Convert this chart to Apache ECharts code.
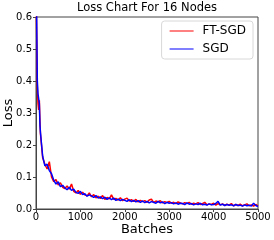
<!DOCTYPE html>
<html><head><meta charset="utf-8">
<script src="https://cdn.jsdelivr.net/npm/echarts@6/dist/echarts.min.js"></script>
<style>html,body{margin:0;padding:0;background:#fff}#c{width:274px;height:240px}</style>
</head><body><div id="c"></div>
<script>
const batches = [0,15,30,45,60,75,90,100,150,200,250,300,350,400,450,500,550,600,650,700,750,800,850,900,950,1000,1050,1100,1150,1200,1250,1300,1350,1400,1450,1500,1550,1600,1650,1700,1750,1800,1850,1900,1950,2000,2050,2100,2150,2200,2250,2300,2350,2400,2450,2500,2550,2600,2650,2700,2750,2800,2850,2900,2950,3000,3050,3100,3150,3200,3250,3300,3350,3400,3450,3500,3550,3600,3650,3700,3750,3800,3850,3900,3950,4000,4050,4100,4150,4200,4250,4300,4350,4400,4450,4500,4550,4600,4650,4700,4750,4800,4850,4900,4950,5000];
const ftsgd = [0.70,0.55,0.38,0.33,0.31,0.34,0.27,0.235,0.16,0.14,0.125,0.148,0.10,0.085,0.092,0.075,0.082,0.068,0.064,0.072,0.062,0.078,0.055,0.050,0.058,0.046,0.052,0.044,0.041,0.050,0.038,0.045,0.035,0.040,0.033,0.042,0.030,0.036,0.032,0.044,0.030,0.033,0.028,0.035,0.026,0.031,0.034,0.025,0.029,0.024,0.030,0.022,0.027,0.023,0.026,0.021,0.028,0.031,0.020,0.025,0.022,0.026,0.019,0.023,0.020,0.024,0.018,0.021,0.017,0.022,0.019,0.016,0.020,0.017,0.021,0.015,0.018,0.016,0.020,0.014,0.017,0.021,0.013,0.016,0.014,0.018,0.012,0.017,0.013,0.016,0.011,0.015,0.012,0.017,0.010,0.014,0.011,0.015,0.010,0.013,0.016,0.010,0.013,0.009,0.014,0.010];
const sgd = [0.78,0.60,0.40,0.36,0.355,0.33,0.26,0.24,0.165,0.135,0.14,0.12,0.11,0.09,0.078,0.085,0.07,0.074,0.066,0.06,0.068,0.058,0.062,0.052,0.049,0.055,0.045,0.048,0.040,0.044,0.041,0.036,0.042,0.034,0.038,0.032,0.037,0.030,0.035,0.029,0.034,0.027,0.031,0.026,0.030,0.027,0.024,0.029,0.023,0.027,0.022,0.026,0.021,0.025,0.020,0.024,0.019,0.023,0.021,0.018,0.024,0.019,0.022,0.017,0.021,0.018,0.020,0.016,0.019,0.015,0.018,0.017,0.014,0.019,0.015,0.017,0.013,0.016,0.014,0.018,0.013,0.015,0.012,0.016,0.013,0.014,0.017,0.024,0.012,0.015,0.011,0.014,0.012,0.013,0.010,0.014,0.011,0.012,0.009,0.013,0.010,0.012,0.009,0.018,0.011,0.008];
const yTicks = [0, 0.6, 0.1];
const xTicks = [0, 5000, 1000];
const seriesNames = ['FT-SGD', 'SGD'];
const seriesColors = ['#ff0000', '#0000ff'];
const chartTitle = 'Loss Chart For 16 Nodes';

const font = 'DejaVu Sans';
const chart = echarts.init(document.getElementById('c'), null, {renderer: 'canvas'});
const pair = arr => batches.map((b, i) => [b, arr[i]]);
chart.setOption({
  animation: false,
  title: {text: chartTitle, left: 147, top: 2, textAlign: 'center', padding: 0,
    textStyle: {fontFamily: font, fontSize: 11.5, fontWeight: 'normal', color: '#000'}},
  grid: {left: 36, right: 16, top: 17, bottom: 31, show: true, borderColor: '#444', borderWidth: 1,
    containLabel: false, outerBoundsMode: 'none'},
  legend: {orient: 'vertical', right: 21, top: 21, padding: [4, 7, 4, 8], itemGap: 6,
    borderColor: '#d8d8d8', borderWidth: 1, borderRadius: 3,
    itemWidth: 24, itemHeight: 14, icon: 'path://M0,6.5 L24,6.5 L24,7.5 L0,7.5 Z',
    textStyle: {fontFamily: font, fontSize: 12, color: '#000', padding: [0, 0, 0, 4]},
    data: seriesNames.map((n, i) => ({name: n, itemStyle: {color: seriesColors[i]}}))},
  xAxis: {type: 'value', min: xTicks[0], max: xTicks[1], interval: xTicks[2],
    name: 'Batches', nameLocation: 'middle', nameGap: 14, nameMoveOverlap: false,
    nameTextStyle: {fontFamily: font, fontSize: 13, color: '#000'},
    axisLine: {lineStyle: {color: '#444'}}, axisTick: {length: 3, lineStyle: {color: '#444'}},
    axisLabel: {fontFamily: font, fontSize: 10, color: '#000', margin: 3, formatter: v => String(v)}, splitLine: {show: false}},
  yAxis: {type: 'value', min: yTicks[0], max: yTicks[1], interval: yTicks[2],
    name: 'Loss', nameLocation: 'middle', nameGap: 21, nameMoveOverlap: false,
    nameTextStyle: {fontFamily: font, fontSize: 13, color: '#000'},
    axisLine: {show: true, lineStyle: {color: '#444'}}, axisTick: {show: true, length: 3, lineStyle: {color: '#444'}},
    axisLabel: {fontFamily: font, fontSize: 10, color: '#000', margin: 4, formatter: v => v.toFixed(1)}, splitLine: {show: false}},
  series: [
    {name: seriesNames[0], type: 'line', data: pair(ftsgd), showSymbol: false, clip: true,
      lineStyle: {color: seriesColors[0], width: 1.5}, itemStyle: {color: seriesColors[0]}},
    {name: seriesNames[1], type: 'line', data: pair(sgd), showSymbol: false, clip: true,
      lineStyle: {color: seriesColors[1], width: 1.5}, itemStyle: {color: seriesColors[1]}}
  ]
});
</script></body></html>
